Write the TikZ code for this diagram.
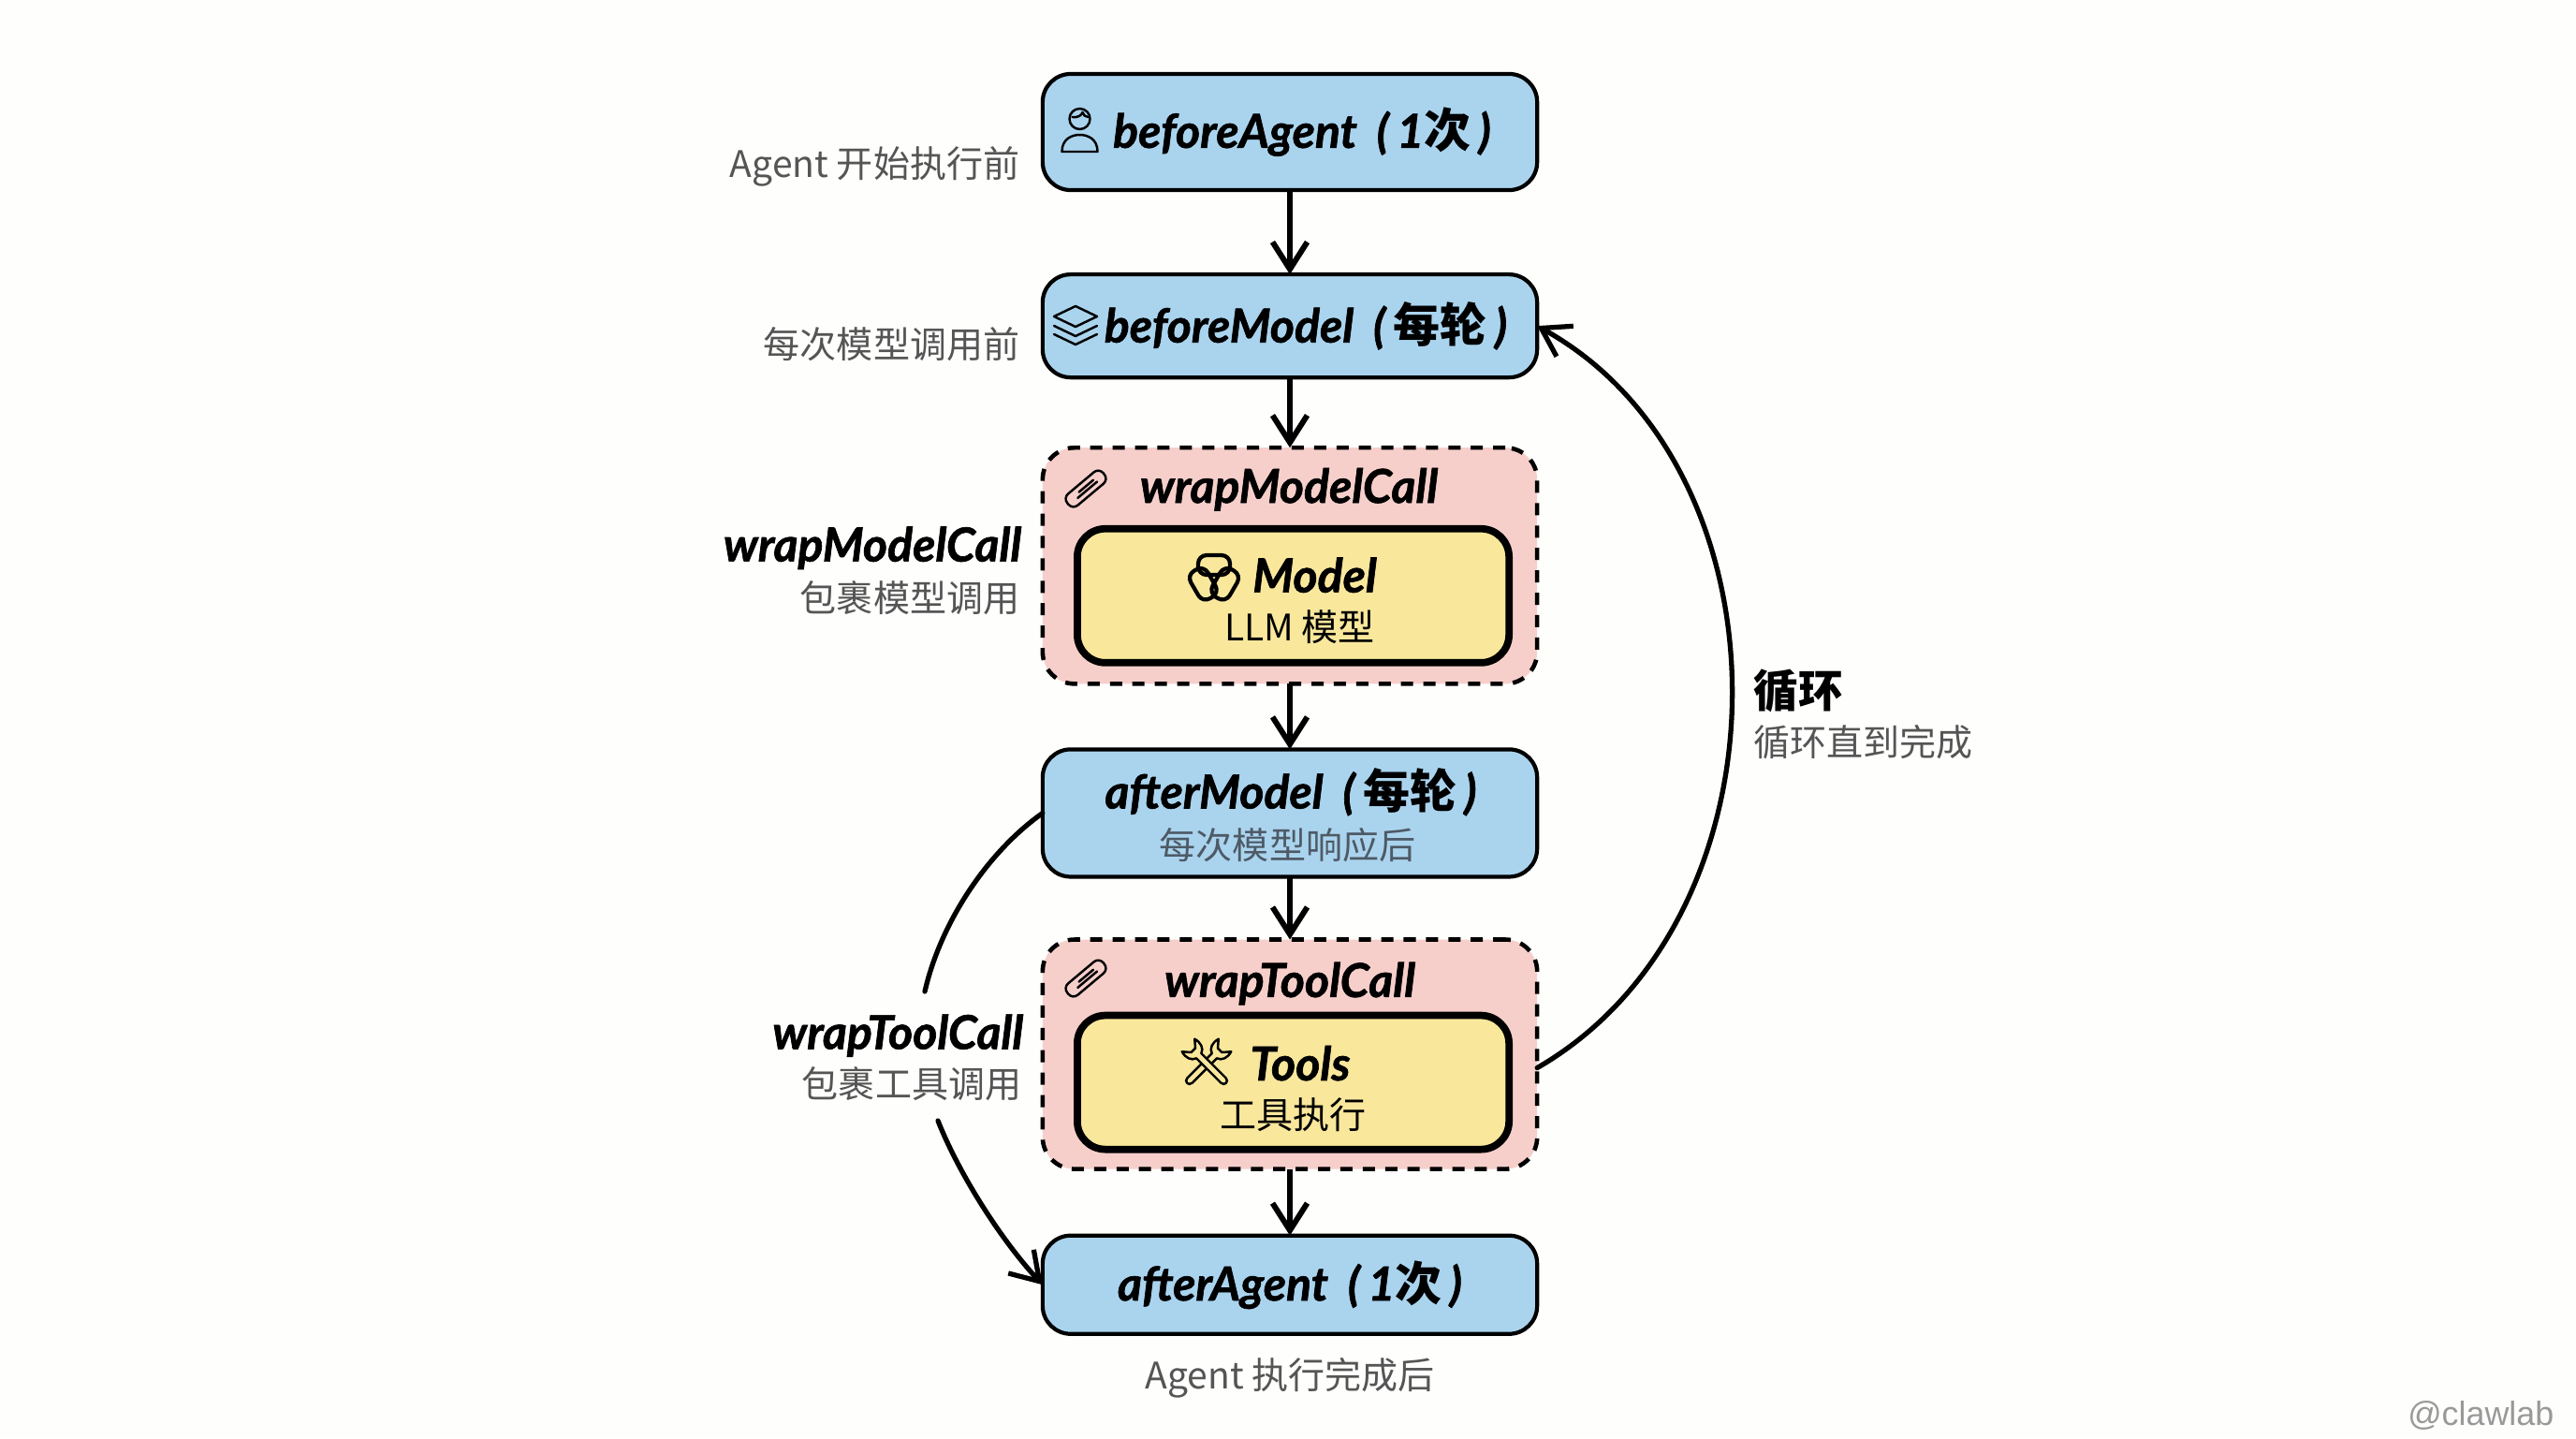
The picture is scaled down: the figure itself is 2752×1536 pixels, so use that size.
\documentclass[tikz,border=0pt]{standalone}
\usepackage{fontspec}
\setmainfont{Lato}[BoldItalicFeatures={FakeBold=1.3}]
\newfontfamily\cjk{Noto Sans CJK SC}
\newfontfamily\markfont{Liberation Sans}
\usetikzlibrary{positioning,arrows.meta}
\definecolor{hookblue}{HTML}{AAD4EE}
\definecolor{wrappink}{HTML}{F6CFCB}
\definecolor{coreyellow}{HTML}{F9E79C}
\definecolor{notegray}{HTML}{555555}
\definecolor{subgray}{HTML}{4E5A66}
\definecolor{paper}{HTML}{FEFEFD}
\newcommand{\han}[1]{{\cjk\bfseries\upshape #1}}
\newcommand{\tally}[1]{\hspace{0.2em} (\,#1\,)}
\tikzset{
	hook/.style={draw=black, line width=1.2pt, fill=hookblue, rounded corners=0.3cm, minimum width=5.28cm, outer sep=0pt},
	wrapbox/.style={draw=black, line width=1.3pt, dash pattern=on 3.7pt off 3.1pt, fill=wrappink, rounded corners=0.34cm, minimum width=5.28cm, outer sep=0pt},
	core/.style={draw=black, line width=2.2pt, fill=coreyellow, rounded corners=0.3cm, minimum width=4.61cm, minimum height=1.43cm, outer sep=0pt},
	flow/.style={line width=1.7pt, -{Straight Barb[length=2.9mm,width=3.7mm]}, black},
	curve/.style={line width=1.5pt, black},
	hooktext/.style={font=\bfseries\itshape\fontsize{14.2}{17}\selectfont, text=black, inner sep=0pt},
	subtext/.style={font=\cjk\fontsize{11.1}{13}\selectfont, text=subgray, inner sep=0pt},
	note/.style={font=\cjk\fontsize{11.1}{13}\selectfont, text=notegray, inner sep=0pt},
	icon/.style={line width=0.7pt, line join=round, line cap=round, black},
	pics/usericon/.style={code={
		\draw[icon] (0,-12) circle (11);
		\draw[icon] (-8,-14) .. controls (-2,-13) and (2,-16) .. (3,-19) .. controls (4,-16) and (6,-14) .. (9,-14);
		\draw[icon] (-19,23) .. controls (-19,9) and (-8,5) .. (0,5) .. controls (8,5) and (19,9) .. (19,23) -- cycle;
	}},
	pics/layericon/.style={code={
		\draw[icon] (-23,-10) -- (0,-21) -- (23,-10) -- (0,1) -- cycle;
		\draw[icon] (-23,0) -- (0,11) -- (23,0);
		\draw[icon] (-23,9) -- (0,20) -- (23,9);
	}},
	pics/clipicon/.style={code={
		\draw[icon, rotate=40, rounded corners=0.07cm] (-25,-8) rectangle (25,8);
		\draw[icon, rotate=40] (-13,2) -- (14,2);
		\draw[icon, rotate=40] (-8,-2) -- (12,-2);
	}},
	pics/knoticon/.style={code={
		\foreach \ang in {0,120,240} {
			\draw[line width=1.2pt, rotate=\ang, rounded corners=0.09cm] (-17,-24) rectangle (17,-3);
		}
	}},
	pics/wrenchicon/.style={code={
		\foreach \ang in {45,135} {
			\draw[icon, fill=coreyellow, rotate=\ang, scale=1.06] (-24,-3.5) -- (11,-3.5) .. controls (13,-9) and (19,-11) .. (26,-9) -- (19,-3) -- (19,3) -- (26,9) .. controls (19,11) and (13,9) .. (11,3.5) -- (-24,3.5) .. controls (-29,3.5) and (-29,-3.5) .. (-24,-3.5) -- cycle;
		}
	}}
}

\begin{document}
\begin{tikzpicture}[x=0.01cm,y=-0.01cm]
\fill[paper] (0,0) rectangle (2752,1536);
\useasboundingbox (0,0) rectangle (2752,1536);

\node [hook, minimum height=1.24cm] (ba) at (1378,141) {};
\node [hook, minimum height=1.10cm, below=0.90cm of ba] (bm) {};
\node [wrapbox, minimum height=2.52cm, below=0.75cm of bm] (wm) {};
\node [hook, minimum height=1.36cm, below=0.70cm of wm] (am) {};
\node [wrapbox, minimum height=2.45cm, below=0.67cm of am] (wt) {};
\node [hook, minimum height=1.05cm, below=0.71cm of wt] (aa) {};
\node [core, above=0.225cm of wm.south, xshift=0.035cm] (mc) {};
\node [core, above=0.21cm of wt.south, xshift=0.035cm] (tc) {};

\node [hooktext] (bat) at ([xshift=0.13cm]ba) {beforeAgent\tally{1\han{次}}};
\node [hooktext] (bmt) at ([xshift=0.17cm]bm) {beforeModel\tally{\han{每轮}}};
\node [hooktext] (wmt) at ([xshift=-0.01cm,yshift=-0.445cm]wm.north) {wrapModelCall};
\node [hooktext] (mct) at ([xshift=0.23cm,yshift=0.22cm]mc) {Model};
\node [subtext, text=black] (mcs) at ([xshift=0.07cm,yshift=-0.33cm]mc) {LLM 模型};
\node [hooktext] (amt) at ([xshift=0.01cm,yshift=0.225cm]am) {afterModel\tally{\han{每轮}}};
\node [subtext] (ams) at ([xshift=-0.025cm,yshift=-0.34cm]am) {每次模型响应后};
\node [hooktext] (wtt) at ([yshift=-0.47cm]wt.north) {wrapToolCall};
\node [hooktext] (tct) at ([xshift=0.075cm,yshift=0.205cm]tc) {Tools};
\node [subtext, text=black] (tcs) at ([yshift=-0.345cm]tc) {工具执行};
\node [hooktext] (aat) at (aa) {afterAgent\tally{1\han{次}}};

\node [note, left=0.24cm of ba, yshift=-0.37cm] (ban) {Agent 开始执行前};
\node [note, left=0.24cm of bm, yshift=-0.20cm] (bmn) {每次模型调用前};
\node [hooktext, left=0.22cm of wm, yshift=0.19cm] (wml) {wrapModelCall};
\node [note, left=0.24cm of wm, yshift=-0.34cm] (wmn) {包裹模型调用};
\node [hooktext, left=0.20cm of wt, yshift=0.20cm] (wtl) {wrapToolCall};
\node [note, left=0.22cm of wt, yshift=-0.32cm] (wtn) {包裹工具调用};
\node [note, below=0.25cm of aa] (aan) {Agent 执行完成后};
\node [font=\cjk\bfseries\fontsize{13.5}{16}\selectfont, inner sep=0pt, anchor=west] (lpt) at (1873,738) {循环};
\node [note, below=0.12cm of lpt.south west, anchor=north west] (lpn) {循环直到完成};
\node [font=\markfont\fontsize{10.2}{12}\selectfont, text=gray!80, inner sep=0pt, anchor=east] (mark) at (2729,1512) {@clawlab};

\pic at (1153.5,139) {usericon};
\pic at (1149,348) {layericon};
\pic at (1160,522) {clipicon};
\pic at (1160,1045) {clipicon};
\pic at (1297,617) {knoticon};
\pic at (1289,1136) {wrenchicon};

\coordinate (ltop) at (988,1059);
\coordinate (lbot) at (1002,1197);

\draw [flow] (ba) -- (bm);
\draw [flow] (bm) -- (wm);
\draw [flow] (wm) -- (am);
\draw [flow] (am) -- (wt);
\draw [flow] (wt) -- (aa);
\draw [curve, line cap=round] (am.west) .. controls (1055,910) and (1005,985) .. (ltop);
\draw [curve, line cap=round, -{Straight Barb[length=2.9mm,width=3.7mm]}] (lbot) .. controls (1025,1255) and (1070,1325) .. (aa.west);
\draw [curve, line cap=round, -{Straight Barb[length=2.9mm,width=3.7mm]}] ([yshift=-0.145cm]wt.east) .. controls (1919,981) and (1919,501) .. (bm.east);
\end{tikzpicture}
\end{document}
